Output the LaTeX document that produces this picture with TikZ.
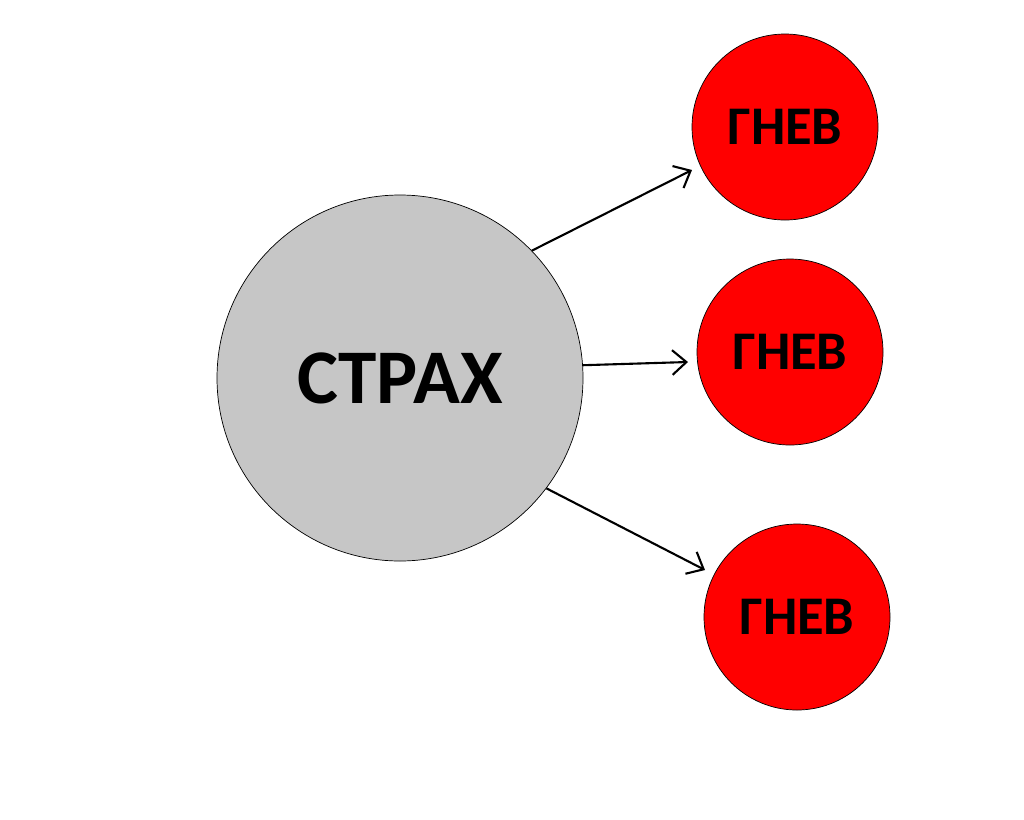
\documentclass[tikz,border=0pt]{standalone}
\usepackage{fontspec}
\setmainfont{Carlito}
\usetikzlibrary{arrows.meta}
\begin{document}
\begin{tikzpicture}[x=0.02cm,y=-0.02cm,
  big/.style={circle,draw=black,fill=gray!45,minimum size=366*0.02cm,inner sep=0pt,font=\bfseries\fontsize{44}{44}\selectfont},
  red/.style={circle,draw=black,fill=red,minimum size=186*0.02cm,inner sep=0pt,font=\bfseries\fontsize{31}{31}\selectfont},
  arr/.style={draw=black,line width=1.2pt,-{Straight Barb[length=8pt,width=14pt,line width=1.2pt]}}]
\useasboundingbox (0,0) rectangle (1024,819);
\node[big] (s) at (400,378) {СТРАХ};
\node[red] (g1) at (785,127) {ГНЕВ};
\node[red] (g2) at (790,352) {ГНЕВ};
\node[red] (g3) at (797,617) {ГНЕВ};
\coordinate (e1) at (692,170);
\coordinate (e2) at (688,362);
\coordinate (e3) at (705,570);
\draw[arr] (s.44) -- (e1);
\draw[arr] (s.4) -- (e2);
\draw[arr] (s.-37) -- (e3);
\end{tikzpicture}
\end{document}
